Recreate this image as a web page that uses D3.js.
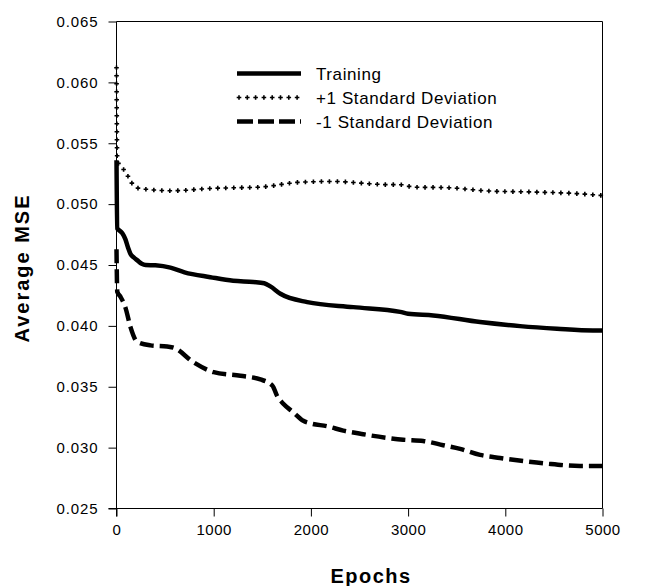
<!DOCTYPE html>
<html>
<head>
<meta charset="utf-8">
<script src="https://cdn.jsdelivr.net/npm/d3@7"></script>
<style>
  html, body { margin: 0; padding: 0; background: #fff; }
  svg { display: block; }
  text { font-family: "Liberation Sans", Arial, sans-serif; fill: #000; }
</style>
</head>
<body>
<svg id="chart" width="650" height="586"></svg>
<script>
// ---- data ----
const seriesNames = ["Training", "+1 Standard Deviation", "-1 Standard Deviation"];

const trainingEpochs = [0, 8, 20, 60, 92, 120, 144, 180, 212, 260, 300, 400, 555, 700, 966, 1200, 1408, 1520, 1583, 1686, 1963, 2436, 2919, 3000, 3258, 3741, 4152, 4532, 4902, 5000];
const trainingMSE    = [0.0536, 0.0480, 0.0479, 0.0476, 0.0471, 0.0464, 0.0459, 0.0456, 0.0454, 0.0451, 0.0450, 0.04497, 0.04478, 0.0444, 0.0440, 0.0437, 0.0436, 0.0435, 0.04324, 0.04264, 0.04195, 0.04154, 0.04115, 0.04100, 0.04086, 0.04031, 0.03998, 0.03977, 0.03963, 0.03963];

const plusEpochs = [0, 8, 40, 110, 160, 230, 555, 1000, 1480, 1890, 2230, 2800, 2920, 3055, 3400, 3844, 4255, 4769, 5000];
const plusMSE    = [0.0612, 0.0535, 0.0532, 0.0524, 0.0517, 0.0513, 0.0511, 0.0513, 0.0514, 0.0518, 0.05186, 0.0516, 0.0516, 0.0514, 0.05135, 0.05107, 0.0510, 0.05085, 0.05071];

const minusEpochs = [0, 8, 40, 92, 144, 212, 350, 521, 590, 794, 1000, 1275, 1480, 1603, 1655, 1716, 1819, 1922, 1994, 2169, 2333, 2539, 2785, 2950, 3155, 3361, 3535, 3741, 3947, 4183, 4430, 4769, 5000];
const minusMSE    = [0.0463, 0.0428, 0.0424, 0.0415, 0.0399, 0.0387, 0.0384, 0.0383, 0.0382, 0.0370, 0.0362, 0.0359, 0.0356, 0.0351, 0.0342, 0.0336, 0.0329, 0.0322, 0.0320, 0.03175, 0.0314, 0.0311, 0.0308, 0.03065, 0.03055, 0.0302, 0.0299, 0.0294, 0.02915, 0.0289, 0.02868, 0.0285, 0.0285];

const xTicks = [0, 1000, 2000, 3000, 4000, 5000];
const yTicks = [0.025, 0.030, 0.035, 0.040, 0.045, 0.050, 0.055, 0.060, 0.065];

// ---- layout ----
const svg = d3.select("#chart");
const L = 116.5, R = 602.5, T = 21.5, B = 508.5;
const x = d3.scaleLinear().domain([0, 5000]).range([L, R]);
const y = d3.scaleLinear().domain([0.025, 0.065]).range([B, T]);

// frame (top + right)
svg.append("line").attr("x1", L).attr("x2", R).attr("y1", T).attr("y2", T).attr("stroke", "#000").attr("stroke-width", 1);
svg.append("line").attr("x1", R).attr("x2", R).attr("y1", T).attr("y2", B).attr("stroke", "#000").attr("stroke-width", 1);

// axes
const xAxis = d3.axisBottom(x).tickValues(xTicks).tickSize(8).tickPadding(4).tickFormat(d3.format("d"));
const yAxis = d3.axisLeft(y).tickValues(yTicks).tickSize(8).tickPadding(10).tickFormat(d3.format(".3f"));

const gx = svg.append("g").attr("transform", `translate(0,${B})`).call(xAxis);
const gy = svg.append("g").attr("transform", `translate(${L},0)`).call(yAxis);
[gx, gy].forEach(g => {
  g.select(".domain").attr("stroke", "#000").attr("stroke-width", 1);
  g.selectAll(".tick line").attr("stroke", "#000").attr("stroke-width", 1);
  g.selectAll(".tick text").style("font-family", '"Liberation Sans", Arial, sans-serif').style("font-size", "15px").attr("fill", "#000");
});
// extend domains so axes cross like the original
gx.select(".domain").attr("d", `M${L - 8},0H${R}`);
gy.select(".domain").attr("d", `M0,${T}V${B + 8}`);
gy.selectAll(".tick text").attr("letter-spacing", "0.9px");
gx.selectAll(".tick text").attr("letter-spacing", "0.5px").attr("dy", "0.95em");

// axis titles
svg.append("text").attr("x", 371).attr("y", 583).attr("text-anchor", "middle")
  .style("font-size", "20px").style("font-weight", "bold").attr("letter-spacing", "1.5px").text("Epochs");
svg.append("text").attr("transform", "translate(29,268) rotate(-90)").attr("text-anchor", "middle")
  .style("font-size", "20px").style("font-weight", "bold").attr("letter-spacing", "2px").text("Average MSE");

// lines
const lineGen = d3.line().x(d => x(d[0])).y(d => y(d[1])).curve(d3.curveMonotoneX);
const trainData = trainingEpochs.map((e, i) => [e, trainingMSE[i]]);
const plusData = plusEpochs.map((e, i) => [e, plusMSE[i]]);
const minusData = minusEpochs.map((e, i) => [e, minusMSE[i]]);

svg.append("path").datum(minusData).attr("d", lineGen).attr("fill", "none")
  .attr("stroke", "#000").attr("stroke-width", 4.5).attr("stroke-dasharray", "14,6");
svg.append("path").datum(trainData).attr("d", lineGen).attr("fill", "none")
  .attr("stroke", "#000").attr("stroke-width", 4.5).attr("stroke-linejoin", "round");

// +1 SD: plus markers placed along the path
function plusMarkers(g, pathNode, step, size) {
  const len = pathNode.getTotalLength();
  let dstr = "";
  for (let s = 0; s <= len; s += step) {
    const p = pathNode.getPointAtLength(s);
    dstr += `M${p.x - size},${p.y}h${2 * size}M${p.x},${p.y - size}v${2 * size}`;
  }
  g.append("path").attr("d", dstr).attr("stroke", "#000").attr("stroke-width", 1.6).attr("fill", "none");
}
const plusPath = svg.append("path").datum(plusData).attr("d", lineGen).attr("fill", "none").attr("stroke", "none");
plusMarkers(svg, plusPath.node(), 8, 2.3);

// legend
const lg = svg.append("g");
const lx1 = 237, lx2 = 301, ltx = 316;
const rows = [73.5, 97.5, 121.5];
lg.append("line").attr("x1", lx1).attr("x2", lx2).attr("y1", rows[0]).attr("y2", rows[0]).attr("stroke", "#000").attr("stroke-width", 4.5);
const lp = lg.append("path").attr("d", `M${lx1 + 2},${rows[1]}H${lx2}`).attr("stroke", "none");
plusMarkers(lg, lp.node(), 8.3, 2.3);
lg.append("line").attr("x1", lx1).attr("x2", lx2).attr("y1", rows[2]).attr("y2", rows[2]).attr("stroke", "#000").attr("stroke-width", 4.5).attr("stroke-dasharray", "16,5");
seriesNames.forEach((n, i) => {
  lg.append("text").attr("x", ltx).attr("y", rows[i] + 6).style("font-size", "17px").attr("letter-spacing", "0.6px").text(n);
});
</script>
</body>
</html>
